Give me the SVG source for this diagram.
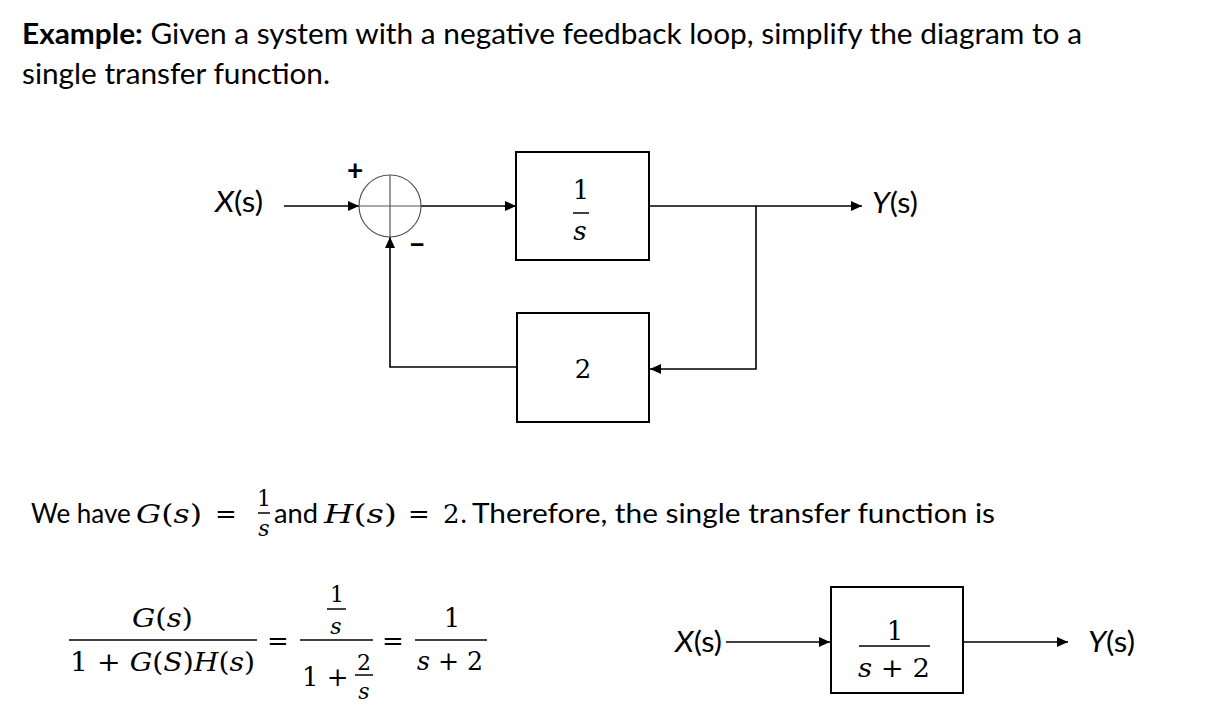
<svg xmlns="http://www.w3.org/2000/svg" width="1228" height="714" viewBox="0 0 1228 714">
<style>
.t{font-family:Lato,"Open Sans","Liberation Sans",sans-serif;font-size:28px;fill:#000}
.r{font-family:Lato,"Open Sans","Liberation Sans",sans-serif;font-size:26px;fill:#000}
.m{font-family:"DejaVu Serif","Liberation Serif",serif;font-size:26px;fill:#000}
.ms{font-family:"DejaVu Serif","Liberation Serif",serif;font-size:22px;fill:#000}
.i{font-style:italic}
.ln{stroke:#000;stroke-width:1.6;fill:none}
.fb{stroke:#000;stroke-width:1.5}
.box{fill:#fff;stroke:#000;stroke-width:2}
.thin{stroke:#555;stroke-width:1.2;fill:none}
</style>
<defs>
<marker id="ah" markerUnits="userSpaceOnUse" markerWidth="12" markerHeight="10" refX="11" refY="5" orient="auto">
<path d="M0,0 L11,5 L0,10 Z" fill="#000"/>
</marker>
</defs>
<rect width="1228" height="714" fill="#fff"/>

<g id="title">
<text class="t" x="22" y="44" textLength="1060" lengthAdjust="spacingAndGlyphs"><tspan font-weight="bold">Example:</tspan> Given a system with a negative feedback loop, simplify the diagram to a</text>
<text class="t" x="22" y="84" textLength="308" lengthAdjust="spacingAndGlyphs">single transfer function.</text>
</g>

<g id="connectors">
<line class="ln" x1="284" y1="206" x2="359" y2="206" marker-end="url(#ah)"/>
<line class="ln" x1="421" y1="206" x2="516" y2="206" marker-end="url(#ah)"/>
<line class="ln" x1="649" y1="206" x2="862" y2="206" marker-end="url(#ah)"/>
<polyline class="ln" points="756,206 756,369 650,369" marker-end="url(#ah)"/>
<polyline class="ln" points="517,367 390,367 390,237" marker-end="url(#ah)"/>
<line class="ln" x1="726" y1="642" x2="830" y2="642" marker-end="url(#ah)"/>
<line class="ln" x1="963" y1="642" x2="1068" y2="642" marker-end="url(#ah)"/>
</g>

<g id="input-label">
<text class="t" x="215" y="212" textLength="48" lengthAdjust="spacingAndGlyphs"><tspan class="i">X</tspan>(s)</text>
</g>

<g id="summer">
<circle class="thin" cx="390" cy="206" r="31" fill="none"/>
<line class="thin" x1="359" y1="206" x2="421" y2="206"/>
<line class="thin" x1="390" y1="175" x2="390" y2="237"/>
<text class="t" x="355" y="180" font-size="22" font-weight="bold" text-anchor="middle">+</text>
<text class="t" x="417" y="254" font-size="24" font-weight="bold" text-anchor="middle">−</text>
</g>

<g id="block-G">
<rect class="box" x="516" y="152" width="133" height="108"/>
<text class="m" x="581" y="199" text-anchor="middle">1</text>
<line class="fb" x1="573" y1="213" x2="589" y2="213"/>
<text class="m i" x="580" y="240" text-anchor="middle">s</text>
</g>

<g id="output-label">
<text class="t" x="872" y="213" textLength="46" lengthAdjust="spacingAndGlyphs"><tspan class="i">Y</tspan>(s)</text>
</g>

<g id="block-H">
<rect class="box" x="517" y="313" width="132" height="109"/>
<text class="m" x="583" y="378" text-anchor="middle">2</text>
</g>

<g id="statement">
<text class="r" x="31" y="523">We have</text>
<text class="m" x="136" y="523" textLength="66" lengthAdjust="spacingAndGlyphs"><tspan class="i">G</tspan>(<tspan class="i">s</tspan>)</text>
<text class="m" x="226" y="523" text-anchor="middle">=</text>
<text class="ms" x="264" y="506" text-anchor="middle" font-size="18">1</text>
<line class="fb" x1="258" y1="513" x2="270" y2="513" stroke-width="1.3"/>
<text class="ms i" x="264" y="536" text-anchor="middle" font-size="20">s</text>
<text class="r" x="274" y="523" textLength="44" lengthAdjust="spacingAndGlyphs">and</text>
<text class="m" x="324" y="523" textLength="73" lengthAdjust="spacingAndGlyphs"><tspan class="i">H</tspan>(<tspan class="i">s</tspan>)</text>
<text class="m" x="419" y="523" text-anchor="middle">=</text>
<text class="m" x="443" y="523">2.</text>
<text class="r" x="472" y="523" textLength="523" lengthAdjust="spacingAndGlyphs">Therefore, the single transfer function is</text>
</g>

<g id="equation">
<text class="m" x="132" y="627" textLength="61" lengthAdjust="spacingAndGlyphs"><tspan class="i">G</tspan>(<tspan class="i">s</tspan>)</text>
<line class="fb" x1="69" y1="640" x2="257" y2="640"/>
<text class="m" x="70" y="671" textLength="185" lengthAdjust="spacingAndGlyphs">1 + <tspan class="i">G</tspan>(<tspan class="i">S</tspan>)<tspan class="i">H</tspan>(<tspan class="i">s</tspan>)</text>
<text class="m" x="278" y="650" text-anchor="middle">=</text>
<text class="ms" x="337" y="602" text-anchor="middle">1</text>
<line class="fb" x1="327" y1="609" x2="346" y2="609"/>
<text class="ms i" x="336" y="634" text-anchor="middle">s</text>
<line class="fb" x1="300" y1="640" x2="373" y2="640"/>
<text class="m" x="302" y="686">1 +</text>
<text class="ms" x="364" y="670" text-anchor="middle">2</text>
<line class="fb" x1="355" y1="675" x2="373" y2="675"/>
<text class="ms i" x="364" y="699" text-anchor="middle">s</text>
<text class="m" x="393" y="650" text-anchor="middle">=</text>
<text class="m" x="452" y="627" text-anchor="middle">1</text>
<line class="fb" x1="415" y1="640" x2="487" y2="640"/>
<text class="m" x="417" y="670" textLength="66" lengthAdjust="spacingAndGlyphs"><tspan class="i">s</tspan> + 2</text>
</g>

<g id="simple-input">
<text class="t" x="675" y="652" textLength="47" lengthAdjust="spacingAndGlyphs"><tspan class="i">X</tspan>(s)</text>
</g>

<g id="block-T">
<rect class="box" x="831" y="587" width="132" height="106"/>
<text class="m" x="895" y="640" text-anchor="middle">1</text>
<line class="fb" x1="859" y1="646" x2="930" y2="646"/>
<text class="m" x="858" y="677" textLength="72" lengthAdjust="spacingAndGlyphs"><tspan class="i">s</tspan> + 2</text>
</g>

<g id="simple-output">
<text class="t" x="1088" y="652" textLength="47" lengthAdjust="spacingAndGlyphs"><tspan class="i">Y</tspan>(s)</text>
</g>
</svg>
